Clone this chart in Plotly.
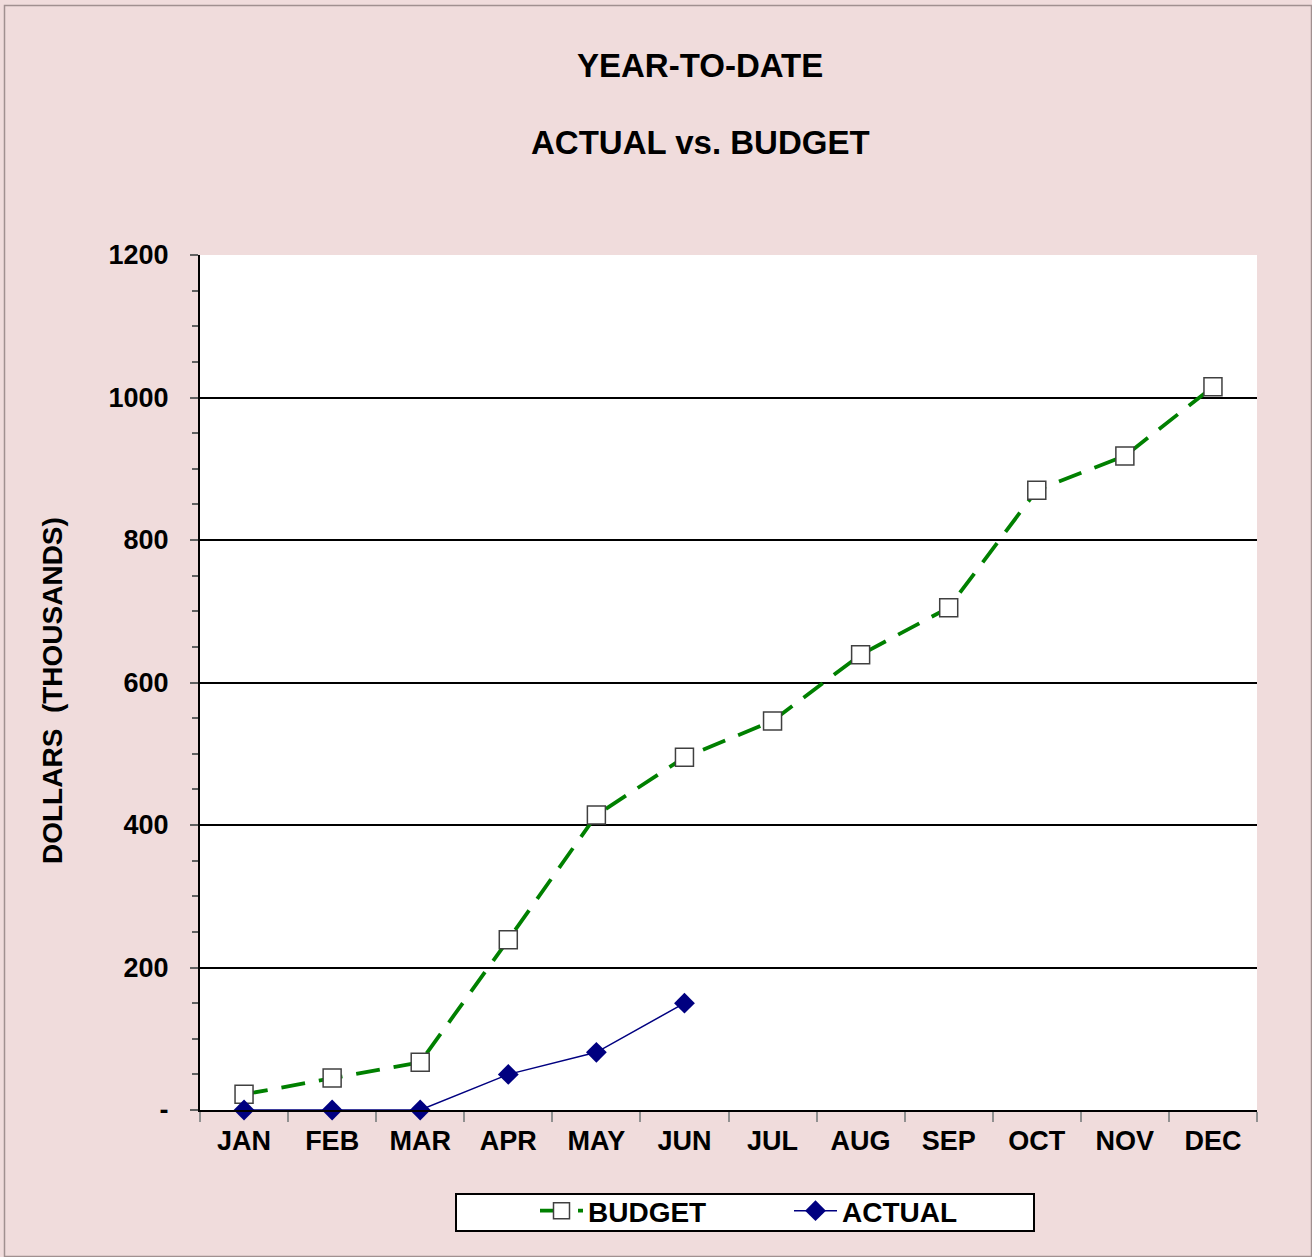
import plotly.graph_objects as go

months = ["JAN", "FEB", "MAR", "APR", "MAY", "JUN", "JUL", "AUG", "SEP", "OCT", "NOV", "DEC"]
budget = [22, 45, 67, 239, 414, 495, 546, 639, 705, 870, 918, 1015]
actual_months = ["JAN", "FEB", "MAR", "APR", "MAY", "JUN"]
actual = [0, 0, 0, 50, 81, 150]
y_tickvals = [0, 200, 400, 600, 800, 1000, 1200]
y_ticktext = ["-", "200", "400", "600", "800", "1000", "1200"]

FONT = "Liberation Sans, Arial, sans-serif"
BG = "#F0DCDC"

L, R, T, B = 200, 1257, 255, 1110  # screen coords of plot area
W, H = 1312, 1257
PW, PH = R - L, B - T

def px(x):
    return (x - L) / PW

def py(y):
    return (B - y) / PH

fig = go.Figure()
fig.add_trace(go.Scatter(
    x=months, y=budget, name="BUDGET", mode="lines+markers", cliponaxis=False,
    line=dict(color="#008000", width=3.8, dash="24px,14px"),
    marker=dict(symbol="square", size=18, color="white",
                line=dict(color="#404040", width=1.5)),
))
fig.add_trace(go.Scatter(
    x=actual_months, y=actual, name="ACTUAL", mode="lines+markers", cliponaxis=False,
    line=dict(color="#000080", width=1.5),
    marker=dict(symbol="diamond", size=16, color="#000080",
                line=dict(color="#000080", width=0)),
))

fig.update_layout(
    width=W, height=H,
    margin=dict(l=L, r=W - R, t=T, b=H - B, pad=0),
    paper_bgcolor=BG, plot_bgcolor="white",
    font=dict(family=FONT, size=27, color="black"),
    showlegend=True,
    legend=dict(
        orientation="h", x=px(535), xanchor="left", y=py(1186), yanchor="top",
        bgcolor="rgba(0,0,0,0)", borderwidth=0,
        font=dict(family=FONT, size=28, color="black", weight="bold"),
        entrywidth=196, entrywidthmode="pixels", itemwidth=43,
        tracegroupgap=0,
    ),
    annotations=[
        dict(text="<b>YEAR-TO-DATE</b>", x=px(700), y=py(66), xref="paper", yref="paper",
             showarrow=False, font=dict(size=33, family=FONT), xanchor="center", yanchor="middle"),
        dict(text="<b>ACTUAL vs. BUDGET</b>", x=px(700), y=py(143), xref="paper", yref="paper",
             showarrow=False, font=dict(size=33, family=FONT), xanchor="center", yanchor="middle"),
        dict(text="<b>DOLLARS  (THOUSANDS)</b>", x=px(52), y=py(691), xref="paper", yref="paper",
             showarrow=False, textangle=-90, font=dict(size=28, family=FONT),
             xanchor="center", yanchor="middle"),
    ],
    shapes=[
        dict(type="rect", xref="paper", yref="paper", x0=px(4.5), x1=px(1311.5), y0=py(1256.5), y1=py(5.5),
             line=dict(color="#A09090", width=1.5), fillcolor="rgba(0,0,0,0)", layer="below"),
        dict(type="rect", xref="paper", yref="paper", x0=px(456), x1=px(1034), y0=py(1231), y1=py(1194),
             line=dict(color="black", width=2), fillcolor="white", layer="below"),
    ],
)

fig.update_xaxes(
    type="category", categoryorder="array", categoryarray=months,
    range=[-0.5, 11.5], showgrid=False, zeroline=False,
    showline=True, linecolor="black", linewidth=2,
    tickson="boundaries", ticks="outside", ticklen=10, tickcolor="#909090", tickwidth=1.5,
    tickfont=dict(size=27, family=FONT, weight="bold"), ticklabelstandoff=6,
)
fig.update_yaxes(
    range=[0, 1200], tickvals=y_tickvals, ticktext=y_ticktext,
    showgrid=True, gridcolor="black", gridwidth=1.5, zeroline=False,
    showline=True, linecolor="black", linewidth=2,
    ticks="outside", ticklen=8, tickcolor="#606060", tickwidth=1.5,
    minor=dict(dtick=50, ticks="outside", ticklen=6, tickcolor="#606060", tickwidth=1.5, showgrid=False),
    tickfont=dict(size=27, family=FONT, weight="bold"), ticklabelstandoff=16,
)

fig.write_html(
    "out.html",
    config={"displayModeBar": False},
    post_script="document.body.style.margin='0';document.body.style.overflow='hidden';",
)
